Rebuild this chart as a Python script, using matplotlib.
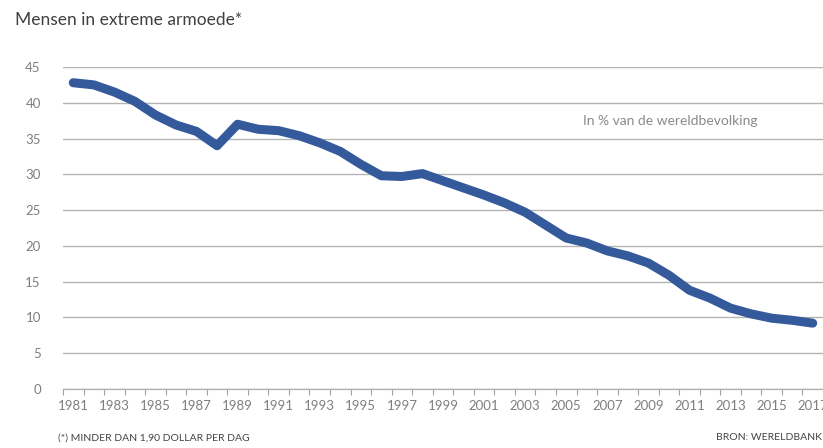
import matplotlib
matplotlib.use('Agg')
import matplotlib.pyplot as plt

# jaartallen en aandeel wereldbevolking in extreme armoede (%)
years = list(range(1981, 2018))
poverty = [42.8, 42.5, 41.5, 40.2, 38.3, 36.9, 36.0, 34.0, 37.0, 36.3,
           36.1, 35.4, 34.4, 33.2, 31.4, 29.8, 29.7, 30.1, 29.1, 28.1,
           27.1, 26.0, 24.7, 22.9, 21.1, 20.4, 19.3, 18.6, 17.6, 15.9,
           13.8, 12.7, 11.3, 10.5, 9.9, 9.6, 9.2]
yticks = [0, 5, 10, 15, 20, 25, 30, 35, 40, 45]
xlabels = [str(y) for y in years[::2]]

plt.rcParams['font.family'] = ['Lato', 'DejaVu Sans']

fig = plt.figure(figsize=(8.23, 4.48), dpi=100)
ax = fig.add_axes([63 / 823, 59 / 448, 760 / 823, 322 / 448])

ax.plot(years, poverty, color='#345a9c', linewidth=6.5,
        solid_capstyle='round', solid_joinstyle='round', zorder=3)

ax.set_ylim(0, 45)
ax.set_xlim(1980.5, 1980.5 + 760 / 20.64)
ax.set_yticks(yticks)
ax.yaxis.grid(True, color='#b4b4b4', linewidth=1.0)
ax.set_axisbelow(True)

# ticks on category boundaries, labels in the middle (every other year)
ax.set_xticks([y - 0.5 for y in years] + [years[-1] + 0.5])
ax.set_xticklabels([])
ax.set_xticks(years[::2], minor=True)
ax.set_xticklabels(xlabels, minor=True)
ax.tick_params(axis='x', which='major', length=4, width=0.8, color='#a0a0a0', direction='out')
ax.tick_params(axis='x', which='minor', length=0, pad=8, labelsize=9.5, labelcolor='#7f7f7f')
ax.tick_params(axis='y', length=0, pad=16, labelsize=9.5, labelcolor='#7f7f7f')

for s in ['top', 'right', 'left']:
    ax.spines[s].set_visible(False)
ax.spines['bottom'].set_color('#b4b4b4')
ax.spines['bottom'].set_linewidth(1.0)

fig.text(15 / 823, 1 - 20 / 448, 'Mensen in extreme armoede*', fontsize=12.5,
         color='#404040', va='center', ha='left')
fig.text(583 / 823, 1 - 121 / 448, 'In % van de wereldbevolking', fontsize=10,
         color='#8a8a8a', va='center', ha='left')
fig.text(58 / 823, 1 - 438 / 448, '(*) MINDER DAN 1,90 DOLLAR PER DAG', fontsize=7.5,
         color='#444444', va='center', ha='left')
fig.text(822 / 823, 1 - 437 / 448, 'BRON: WERELDBANK', fontsize=7.5,
         color='#444444', va='center', ha='right')

fig.savefig('out.png', dpi=100)
